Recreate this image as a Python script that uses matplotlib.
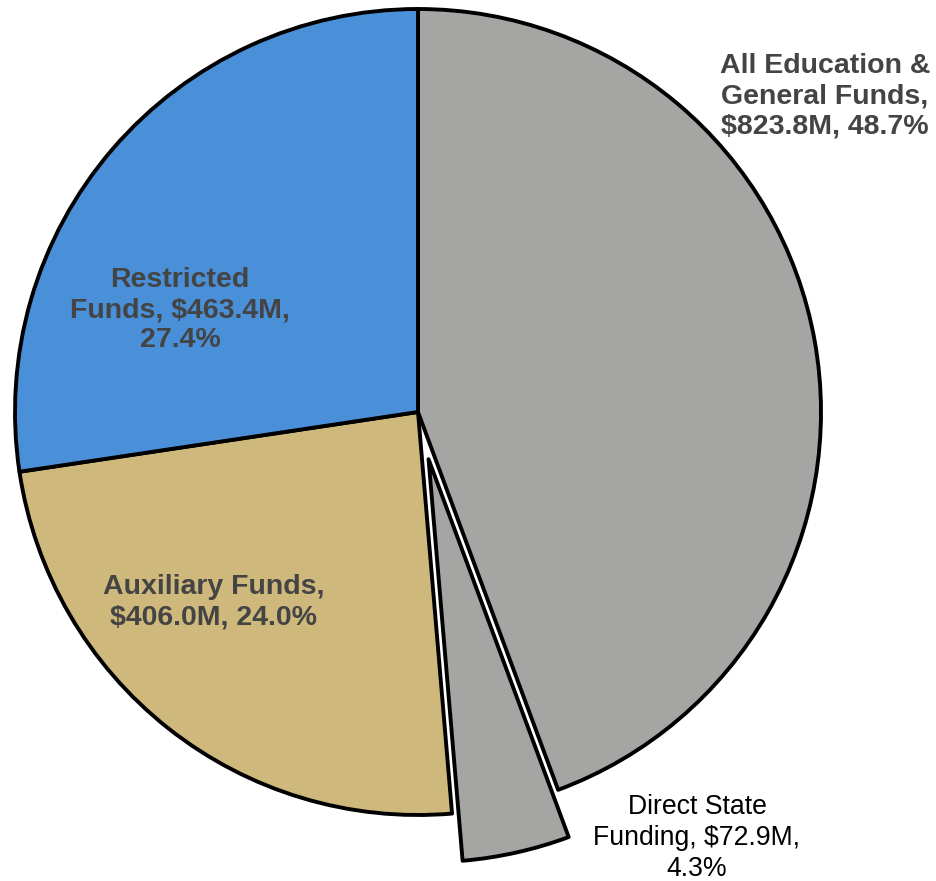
import matplotlib
matplotlib.use("Agg")
import matplotlib.pyplot as plt

# Data (E&G slice drawn net of Direct State Funding, which is a part of it)
categories = ["All Education & General Funds", "Direct State Funding", "Auxiliary Funds", "Restricted Funds"]
values = [750.9, 72.9, 406.0, 463.4]
label_texts = [
    "All Education &\nGeneral Funds,\n$823.8M, 48.7%",
    "Direct State\nFunding, $72.9M,\n4.3%",
    "Auxiliary Funds,\n$406.0M, 24.0%",
    "Restricted\nFunds, $463.4M,\n27.4%",
]
colors = ["#a5a6a4", "#a5a6a4", "#cfb87c", "#4a90d9"]
explode_frac = [0, 0.12, 0, 0]

W, H = 937, 881
fig = plt.figure(figsize=(W / 100, H / 100), dpi=100)
ax = fig.add_axes([0, 0, 1, 1])
cx, cy, R = 418, H - 412, 403
ax.pie(values, colors=colors, explode=[e * R for e in explode_frac], startangle=90,
       counterclock=False, radius=R, center=(cx, cy), frame=False,
       wedgeprops=dict(edgecolor="black", linewidth=2.8, joinstyle="round"))
ax.set_xlim(0, W)
ax.set_ylim(0, H)
ax.set_aspect("auto")
ax.axis("off")

font = "Liberation Sans"
fs = 20.5
bold_kw = dict(fontsize=fs, fontweight="bold", color="#444444", ha="center", va="center",
               linespacing=1.22, family=font)
ax.text(825, H - 96, label_texts[0], **bold_kw)
ax.text(180, H - 310, label_texts[3], **bold_kw)
ax.text(214, H - 602, label_texts[2], **bold_kw)
ax.text(697, H - 838, label_texts[1], fontsize=19.2, color="black", ha="center", va="center",
        linespacing=1.25, family=font)

fig.savefig("out.png", dpi=100)
